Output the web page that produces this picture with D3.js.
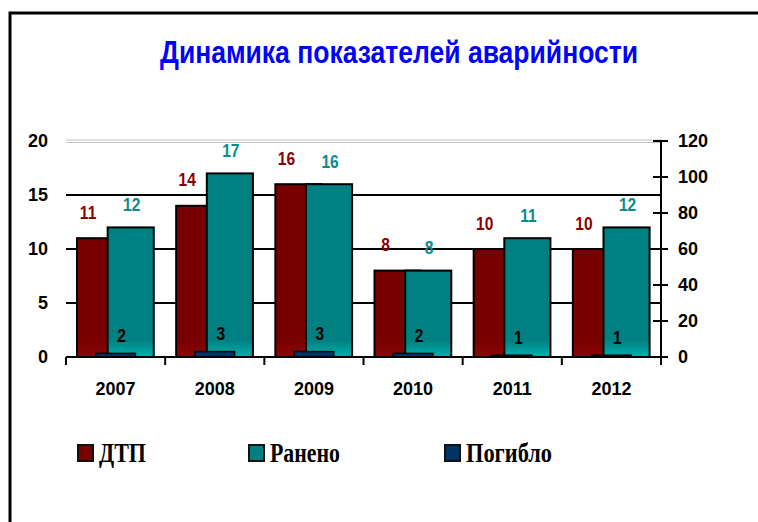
<!DOCTYPE html>
<html><head><meta charset="utf-8">
<script src="https://cdn.jsdelivr.net/npm/d3@7"></script>
<style>body{margin:0;background:#fff}svg{display:block}</style>
</head><body>
<script>
const years = ["2007","2008","2009","2010","2011","2012"];
const dtp = [11,14,16,8,10,10];
const raneno = [12,17,16,8,11,12];
const pogiblo = [2,3,3,2,1,1];
const leftTicks = [0,5,10,15,20];
const rightTicks = [0,20,40,60,80,100,120];
const seriesNames = ["ДТП","Ранено","Погибло"];
const title = "Динамика показателей аварийности";

const W=758,H=522;
const svg=d3.select("body").append("svg").attr("width",W).attr("height",H);
const defs=svg.append("defs");
function grad(id,c1,c2){
  const g=defs.append("linearGradient").attr("id",id).attr("x1",0).attr("x2",0)
   .attr("gradientUnits","userSpaceOnUse").attr("y1",320).attr("y2",357);
  g.append("stop").attr("offset","0%").attr("stop-color",c1);
  g.append("stop").attr("offset","55%").attr("stop-color",c1);
  g.append("stop").attr("offset","100%").attr("stop-color",c2);
}
grad("gRed","#780000","#8c0606");
grad("gTeal","#008080","#00b0b0");

// frame
svg.append("rect").attr("x",10).attr("y",13).attr("width",W+20).attr("height",H+20)
  .attr("fill","none").attr("stroke","#000").attr("stroke-width",3);

const x=d3.scaleBand().domain(years).range([66,661]).padding(0);
const yL=d3.scaleLinear().domain([0,20]).range([357,141]);
const yR=d3.scaleLinear().domain([0,120]).range([357,141]);
const bw=x.bandwidth();

// title
svg.append("text").attr("x",399).attr("y",63).attr("text-anchor","middle")
  .attr("font-family","Liberation Sans Narrow, Arial Narrow, Liberation Sans, Arial")
  .attr("font-weight","bold").attr("font-size",31).attr("fill","#0000ff")
  .attr("textLength",478).attr("lengthAdjust","spacingAndGlyphs").text(title);

// plot top border (gray)
[140,142.5].forEach(yy=>svg.append("line").attr("x1",66).attr("x2",661).attr("y1",yy).attr("y2",yy)
  .attr("stroke","#c4c4c4").attr("stroke-width",1));
// gridlines
svg.append("g").selectAll("line").data(leftTicks.filter(d=>d>0&&d<20)).join("line")
  .attr("x1",66).attr("x2",661).attr("y1",d=>yL(d)).attr("y2",d=>yL(d))
  .attr("stroke","#000").attr("stroke-width",2);

const font="Liberation Sans, Arial, sans-serif";
const narrow="Liberation Sans Narrow, Arial Narrow, Liberation Sans, Arial";

// bars
const g=svg.append("g");
g.selectAll(".r").data(dtp).join("rect")
  .attr("x",(d,i)=>x(years[i])+bw*0.111).attr("width",bw*0.465)
  .attr("y",d=>yL(d)).attr("height",d=>yL(0)-yL(d))
  .attr("fill","url(#gRed)").attr("stroke","#000").attr("stroke-width",2);
g.selectAll(".t").data(raneno).join("rect")
  .attr("x",(d,i)=>x(years[i])+bw*0.42).attr("width",bw*0.465)
  .attr("y",d=>yL(d)).attr("height",d=>yL(0)-yL(d))
  .attr("fill","url(#gTeal)").attr("stroke","#000").attr("stroke-width",2);
g.selectAll(".b").data(pogiblo).join("rect")
  .attr("x",(d,i)=>x(years[i])+bw*0.5-bw*0.2).attr("width",bw*0.4)
  .attr("y",d=>yR(d)).attr("height",d=>yR(0)-yR(d))
  .attr("fill","#003366").attr("stroke","#000").attr("stroke-width",1.5);

// data labels (slightly condensed)
function lab(sel,fill){
  sel.attr("dy","0.35em").attr("text-anchor","middle").attr("font-family",narrow)
    .attr("font-weight","bold").attr("font-size",19).attr("fill",fill)
    .attr("transform",function(){const xx=+this.getAttribute("x"),yy=+this.getAttribute("y");
      return `translate(${xx},${yy}) scale(0.82,1) translate(${-xx},${-yy})`;});
}
svg.append("g").selectAll("text").data(dtp).join("text")
  .attr("x",(d,i)=>x(years[i])+bw*0.111+bw*0.2325-12).attr("y",d=>yL(d)-26)
  .text(d=>d).call(lab,"#8b0000");
svg.append("g").selectAll("text").data(raneno).join("text")
  .attr("x",(d,i)=>x(years[i])+bw*0.42+bw*0.2325+1).attr("y",d=>yL(d)-23)
  .text(d=>d).call(lab,"#0a8c8c");
svg.append("g").selectAll("text").data(pogiblo).join("text")
  .attr("x",(d,i)=>x(years[i])+bw*0.5+6).attr("y",d=>yR(d)-18)
  .text(d=>d).call(lab,"#000");

// x axis
const xa=svg.append("g").attr("transform","translate(0,357)");
xa.append("line").attr("x1",66).attr("x2",661).attr("stroke","#000").attr("stroke-width",2);
const bounds=years.map(d=>x(d)).concat([661]);
xa.selectAll(".tk").data(bounds).join("line").attr("x1",d=>d).attr("x2",d=>d)
  .attr("y1",0).attr("y2",8).attr("stroke","#000").attr("stroke-width",2);
xa.selectAll("text").data(years).join("text").attr("x",d=>x(d)+bw/2).attr("y",32)
  .attr("dy","0.35em").attr("text-anchor","middle").attr("font-family",font)
  .attr("font-weight","bold").attr("font-size",18).text(d=>d);

// left axis labels
svg.append("g").selectAll("text").data(leftTicks).join("text")
  .attr("x",48).attr("y",d=>yL(d)).attr("dy","0.35em").attr("text-anchor","end")
  .attr("font-family",font).attr("font-weight","bold").attr("font-size",18).text(d=>d);

// right axis
const ra=svg.append("g");
ra.append("line").attr("x1",661).attr("x2",661).attr("y1",141).attr("y2",364)
  .attr("stroke","#000").attr("stroke-width",2);
ra.selectAll(".tk").data(rightTicks).join("line").attr("x1",653).attr("x2",668)
  .attr("y1",d=>yR(d)).attr("y2",d=>yR(d)).attr("stroke","#000").attr("stroke-width",2);
ra.selectAll("text").data(rightTicks).join("text").attr("x",678).attr("y",d=>yR(d))
  .attr("dy","0.35em").attr("font-family",font).attr("font-weight","bold").attr("font-size",18).text(d=>d);

// legend
const legColors=["#7a0000","#008080","#003366"];
const legX=[78,249,445];
const legW=[47,70,86];
const lg=svg.append("g");
seriesNames.forEach((n,i)=>{
  lg.append("rect").attr("x",legX[i]).attr("y",445).attr("width",15).attr("height",16)
    .attr("fill",legColors[i]).attr("stroke","#111").attr("stroke-width",2);
  lg.append("text").attr("x",legX[i]+21).attr("y",462)
    .attr("font-family","Liberation Serif, Times New Roman, serif").attr("font-weight","bold")
    .attr("font-size",27).attr("textLength",legW[i]).attr("lengthAdjust","spacingAndGlyphs").text(n);
});
</script>
</body></html>
